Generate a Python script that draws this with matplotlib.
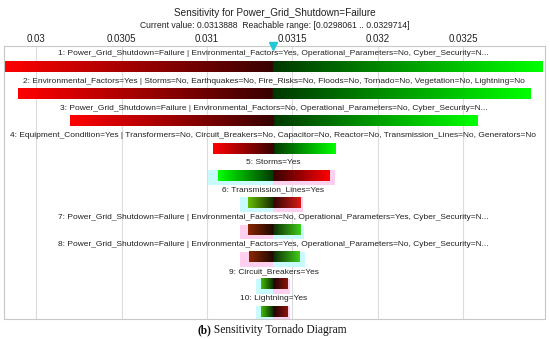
import numpy as np
import matplotlib
matplotlib.use('Agg')
import matplotlib.pyplot as plt

plt.rcParams['font.family'] = ['Liberation Sans', 'DejaVu Sans']

title = 'Sensitivity for Power_Grid_Shutdown=Failure'
current = 0.0313888
reach_lo = 0.0298061
reach_hi = 0.0329714

labels = [
    '1: Power_Grid_Shutdown=Failure | Environmental_Factors=Yes, Operational_Parameters=No, Cyber_Security=N...',
    '2: Environmental_Factors=Yes | Storms=No, Earthquakes=No, Fire_Risks=No, Floods=No, Tornado=No, Vegetation=No, Lightning=No',
    '3: Power_Grid_Shutdown=Failure | Environmental_Factors=No, Operational_Parameters=No, Cyber_Security=N...',
    '4: Equipment_Condition=Yes | Transformers=No, Circuit_Breakers=No, Capacitor=No, Reactor=No, Transmission_Lines=No, Generators=No',
    '5: Storms=Yes',
    '6: Transmission_Lines=Yes',
    '7: Power_Grid_Shutdown=Failure | Environmental_Factors=No, Operational_Parameters=Yes, Cyber_Security=N...',
    '8: Power_Grid_Shutdown=Failure | Environmental_Factors=Yes, Operational_Parameters=No, Cyber_Security=N...',
    '9: Circuit_Breakers=Yes',
    '10: Lightning=Yes',
]
lows = [0.0298061, 0.029895, 0.030199, 0.031035, 0.031064, 0.031240, 0.031240, 0.031246, 0.031316, 0.031316]
highs = [0.032965, 0.032895, 0.032585, 0.031749, 0.031719, 0.031550, 0.031550, 0.031544, 0.031474, 0.031474]
halo_lows = [None, None, None, None, 0.031006, 0.031193, 0.031193, 0.031193, 0.031287, 0.031287]
halo_highs = [None, None, None, None, 0.031749, 0.031561, 0.031567, 0.031573, 0.031485, 0.031485]
ticks = [0.03, 0.0305, 0.031, 0.0315, 0.032, 0.0325]

# end colours of each bar (left, right)
end_cols = [
    ((1, 0, 0), (0, 1, 0)),
    ((1, 0, 0), (0, 1, 0)),
    ((1, 0, 0), (0, 1, 0)),
    ((1, 0, 0), (0, 1, 0)),
    ((0, 1, 0), (1, 0, 0)),
    ((0.4, 0.75, 0), (0.85, 0.1, 0.08)),
    ((0.55, 0.15, 0), (0.25, 0.8, 0.1)),
    ((0.55, 0.15, 0), (0.25, 0.8, 0.1)),
    ((0.25, 0.75, 0), (0.55, 0.08, 0.04)),
    ((0.25, 0.75, 0), (0.55, 0.08, 0.04)),
]

fig = plt.figure(figsize=(5.5, 3.39), dpi=100)
ax = fig.add_axes([4 / 550, 1 - 319 / 339, 541 / 550, 273 / 339])

bar_h = 0.37
for i, lab in enumerate(labels):
    a, b = lows[i], highs[i]
    if halo_lows[i] is not None:
        la, ra = end_cols[i]
        lcol = '#c8fbff' if la[1] > la[0] else '#ffd0ee'
        rcol = '#c8fbff' if ra[1] > ra[0] else '#ffd0ee'
        ax.fill_between([halo_lows[i], current], i - bar_h / 2 - 0.02, i + bar_h / 2 + 0.16,
                        color=lcol, lw=0, zorder=1)
        ax.fill_between([current, halo_highs[i]], i - bar_h / 2 - 0.02, i + bar_h / 2 + 0.16,
                        color=rcol, lw=0, zorder=1)
    xs = np.linspace(a, b, 300)
    lc, rc = np.array(end_cols[i][0]), np.array(end_cols[i][1])
    img = np.zeros((1, len(xs), 3))
    for j, x in enumerate(xs):
        if x < current:
            t = (current - x) / (current - a)
            img[0, j] = lc * (0.22 + 0.78 * t)
        else:
            t = (x - current) / (b - current)
            img[0, j] = rc * (0.22 + 0.78 * t)
    ax.imshow(img, extent=[a, b, i + bar_h / 2, i - bar_h / 2], aspect='auto',
              interpolation='bilinear', zorder=2)
    ax.text(current, i - 0.48, lab, ha='center', va='center', fontsize=6.05, color='#222222', zorder=3)

ax.set_xlim(0.029812, 0.032978)
ax.set_ylim(9.27, -0.77)
ax.set_xticks(ticks)
ax.set_xticklabels([str(t) for t in ticks])
ax.xaxis.tick_top()
ax.tick_params(axis='x', length=0, pad=1.5, labelsize=7.0, colors='#222222')
ax.set_yticks([])
ax.grid(axis='x', color='#dcdcdc', lw=0.8, zorder=0)
ax.set_axisbelow(True)
for s in ax.spines.values():
    s.set_color('#c8c8c8')
    s.set_linewidth(0.8)

ax.plot([current], [-0.77], marker='v', color='#22c8d8', markersize=5.5, clip_on=False, zorder=5)

fig.text(0.5, 1 - 13 / 339, title, ha='center', va='center', fontsize=7.2, color='#222222')
fig.text(0.5, 1 - 25.5 / 339,
         'Current value: %s  Reachable range: [%s .. %s]' % (current, reach_lo, reach_hi),
         ha='center', va='center', fontsize=6.2, color='#222222')

cap = fig.text(197 / 550, 1 - 330 / 339, '(b)', ha='left', va='center', fontsize=8.3,
               fontweight='bold', family='Liberation Serif', color='#111111')
ax.annotate(' Sensitivity Tornado Diagram', xy=(1, 0.5), xycoords=cap, ha='left', va='center',
            fontsize=8.3, family='Liberation Serif', color='#111111', annotation_clip=False)

fig.savefig('out.png', dpi=100)
